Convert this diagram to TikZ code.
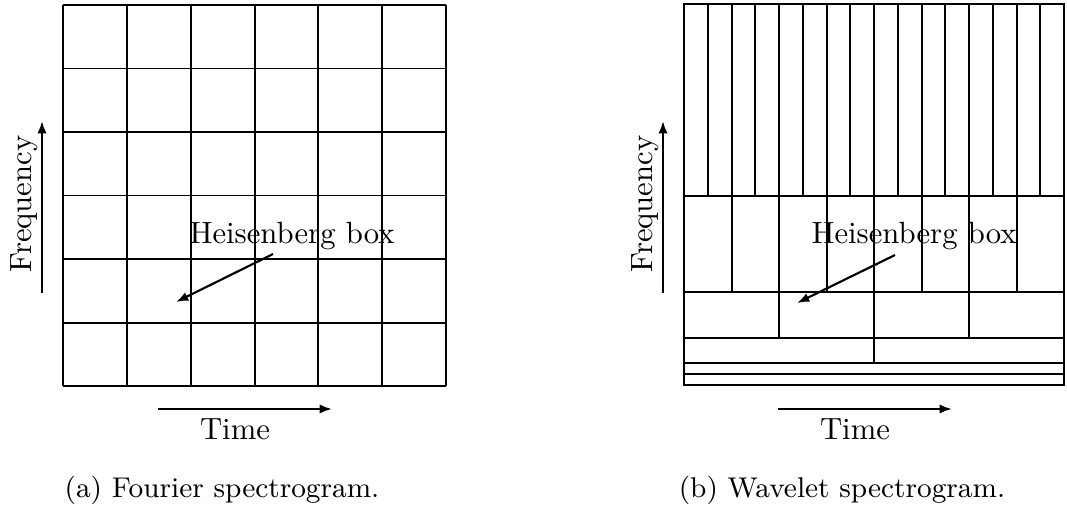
\documentclass[tikz,border=0pt]{standalone}
\usetikzlibrary{arrows.meta}
\begin{document}
\begin{tikzpicture}[x=0.3257pt,y=-0.3257pt,
  gridline/.style={line width=0.65pt},
  axisarrow/.style={line width=0.7pt,-{Latex[length=4pt,width=3pt]}},
  lbl/.style={inner sep=0pt,font=\fontsize{10}{12}\selectfont},
  captext/.style={inner sep=0pt,font=\fontsize{9.3}{11}\selectfont}]
\useasboundingbox (0,0) rectangle (1067,509);
% ---------- (a) Fourier grid ----------
\foreach \i in {0,...,6} {
  \draw[gridline] ({63+\i*383/6},5) -- ({63+\i*383/6},386);
  \draw[gridline] (63,{5+\i*381/6}) -- (446,{5+\i*381/6});
}
\coordinate (fa0) at (42,293); \coordinate (fa1) at (42,121);
\draw[axisarrow] (fa0) -- (fa1);
\node[lbl,rotate=90,anchor=base] (fla) at (31,204) {Frequency};
\coordinate (ta0) at (158,409); \coordinate (ta1) at (332,409);
\draw[axisarrow] (ta0) -- (ta1);
\node[lbl,anchor=base] (tla) at (235,439) {Time};
\node[lbl,anchor=base] (hla) at (292,243) {Heisenberg box};
\coordinate (ha0) at (273,254); \coordinate (ha1) at (176,302);
\draw[axisarrow] (ha0) -- (ha1);
\node[captext,anchor=base] (capa) at (222,497) {(a) Fourier spectrogram.};
% ---------- (b) Wavelet grid ----------
\draw[gridline] (684,4) rectangle (1064,385);
\foreach \y in {196,292,338,363,374} { \draw[gridline] (684,\y) -- (1064,\y); }
\foreach \k in {1,...,15} { \draw[gridline] ({684+\k*23.75},4) -- ({684+\k*23.75},196); }
\foreach \k in {1,...,7} { \draw[gridline] ({684+\k*47.5},196) -- ({684+\k*47.5},292); }
\foreach \k in {1,...,3} { \draw[gridline] ({684+\k*95},292) -- ({684+\k*95},338); }
\draw[gridline] (874,338) -- (874,363);
\coordinate (fb0) at (663,293); \coordinate (fb1) at (663,121);
\draw[axisarrow] (fb0) -- (fb1);
\node[lbl,rotate=90,anchor=base] (flb) at (652,204) {Frequency};
\coordinate (tb0) at (778,409); \coordinate (tb1) at (952,409);
\draw[axisarrow] (tb0) -- (tb1);
\node[lbl,anchor=base] (tlb) at (855,439) {Time};
\node[lbl,anchor=base] (hlb) at (914,243) {Heisenberg box};
\coordinate (hb0) at (895,255); \coordinate (hb1) at (797,303);
\draw[axisarrow] (hb0) -- (hb1);
\node[captext,anchor=base] (capb) at (842,497) {(b) Wavelet spectrogram.};
\end{tikzpicture}
\end{document}
